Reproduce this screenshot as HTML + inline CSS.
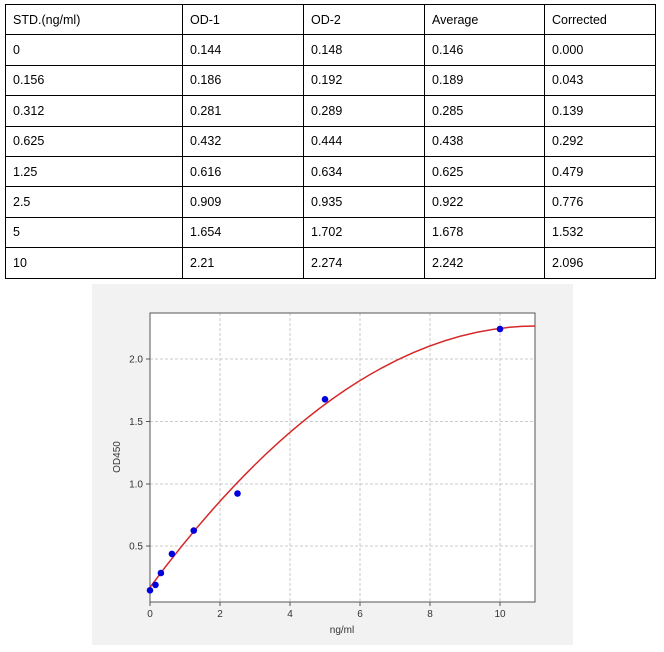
<!DOCTYPE html>
<html><head><meta charset="utf-8"><style>
body{margin:0;background:#fff;width:664px;height:652px;position:relative;font-family:"Liberation Sans",sans-serif;}
table{position:absolute;left:5px;top:4px;border-collapse:collapse;}
td{border:1px solid #000;height:30.4px;padding:0 0 0 7px;font-size:12.5px;color:#000;vertical-align:middle;box-sizing:border-box;}
#chart{position:absolute;left:92px;top:284px;}
</style></head><body>
<table>
<colgroup><col style="width:177px"><col style="width:121px"><col style="width:121px"><col style="width:120px"><col style="width:111px"></colgroup>
<tr><td>STD.(ng/ml)</td><td>OD-1</td><td>OD-2</td><td>Average</td><td>Corrected</td></tr>
<tr><td>0</td><td>0.144</td><td>0.148</td><td>0.146</td><td>0.000</td></tr>
<tr><td>0.156</td><td>0.186</td><td>0.192</td><td>0.189</td><td>0.043</td></tr>
<tr><td>0.312</td><td>0.281</td><td>0.289</td><td>0.285</td><td>0.139</td></tr>
<tr><td>0.625</td><td>0.432</td><td>0.444</td><td>0.438</td><td>0.292</td></tr>
<tr><td>1.25</td><td>0.616</td><td>0.634</td><td>0.625</td><td>0.479</td></tr>
<tr><td>2.5</td><td>0.909</td><td>0.935</td><td>0.922</td><td>0.776</td></tr>
<tr><td>5</td><td>1.654</td><td>1.702</td><td>1.678</td><td>1.532</td></tr>
<tr><td>10</td><td>2.21</td><td>2.274</td><td>2.242</td><td>2.096</td></tr>
</table>
<svg id="chart" width="481" height="361" viewBox="92 284 481 361" xmlns="http://www.w3.org/2000/svg" font-family="Liberation Sans, sans-serif" font-size="10" fill="#333">
<rect x="92" y="284" width="481" height="361" fill="#f2f2f2"/>
<rect x="150" y="313" width="385" height="289" fill="#fff"/>
<g stroke="#bbb" stroke-width="0.8" stroke-dasharray="3,2">
<line x1="220" y1="313" x2="220" y2="602"/><line x1="290" y1="313" x2="290" y2="602"/>
<line x1="360" y1="313" x2="360" y2="602"/><line x1="430" y1="313" x2="430" y2="602"/>
<line x1="500" y1="313" x2="500" y2="602"/>
<line x1="150" y1="359" x2="535" y2="359"/><line x1="150" y1="421.5" x2="535" y2="421.5"/>
<line x1="150" y1="484" x2="535" y2="484"/><line x1="150" y1="546" x2="535" y2="546"/>
</g>
<rect x="150" y="313" width="385" height="289" fill="none" stroke="#555" stroke-width="1"/>
<g stroke="#555"><line x1="150" y1="602" x2="150" y2="606"/><line x1="220" y1="602" x2="220" y2="606"/><line x1="290" y1="602" x2="290" y2="606"/><line x1="360" y1="602" x2="360" y2="606"/><line x1="430" y1="602" x2="430" y2="606"/><line x1="500" y1="602" x2="500" y2="606"/>
<line x1="146" y1="359" x2="150" y2="359"/><line x1="146" y1="421.5" x2="150" y2="421.5"/><line x1="146" y1="484" x2="150" y2="484"/><line x1="146" y1="546" x2="150" y2="546"/></g>
<g text-anchor="middle"><text x="150" y="617">0</text><text x="220" y="617">2</text><text x="290" y="617">4</text><text x="360" y="617">6</text><text x="430" y="617">8</text><text x="500" y="617">10</text>
<text x="342" y="633">ng/ml</text></g>
<g text-anchor="end"><text x="143" y="362.5">2.0</text><text x="143" y="425">1.5</text><text x="143" y="487.5">1.0</text><text x="143" y="549.5">0.5</text></g>
<text transform="translate(120,457) rotate(-90)" text-anchor="middle">OD450</text>
<path d="M150,587.3 Q342.5,327.1 535,326" fill="none" stroke="#d62728" stroke-width="1.5"/>
<g fill="#0000dd"><circle cx="150" cy="590.3" r="3.3"/><circle cx="155.5" cy="584.9" r="3.3"/><circle cx="160.9" cy="573" r="3.3"/><circle cx="171.9" cy="553.9" r="3.3"/><circle cx="193.75" cy="530.6" r="3.3"/><circle cx="237.5" cy="493.5" r="3.3"/><circle cx="325" cy="399.3" r="3.3"/><circle cx="500" cy="329" r="3.3"/></g>
</svg>
</body></html>
